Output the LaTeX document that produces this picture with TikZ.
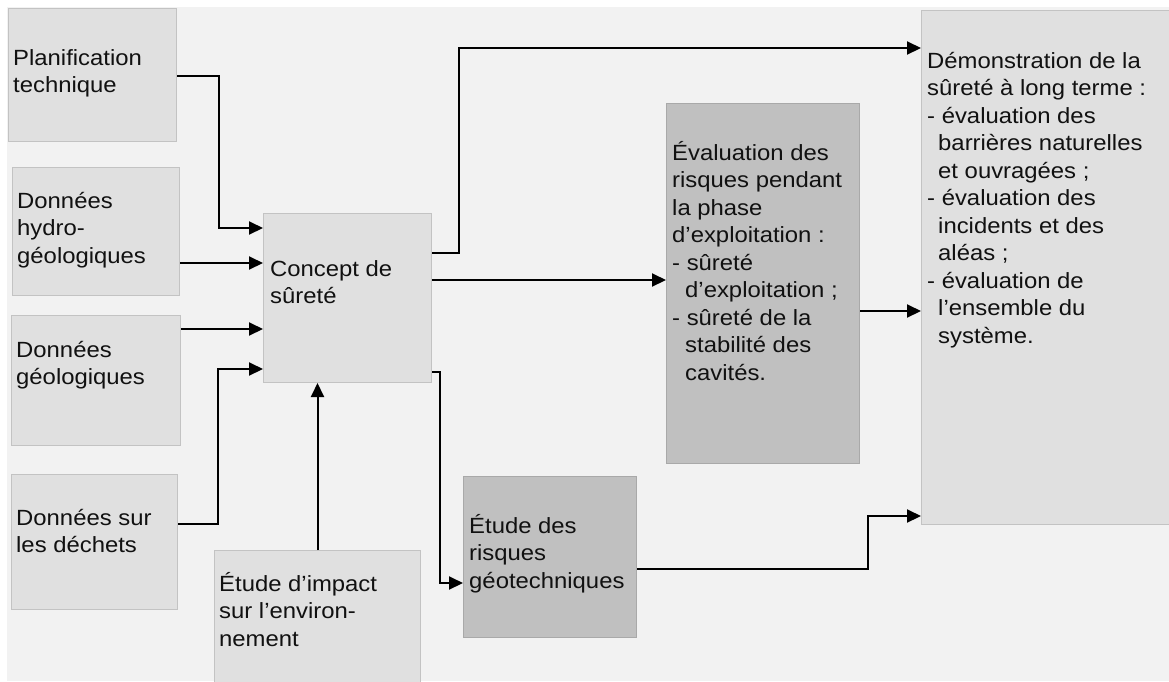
\documentclass[tikz,border=0pt]{standalone}
\usepackage{fontspec}
\setmainfont{Liberation Sans}[FakeStretch=1.085]
\usetikzlibrary{arrows.meta,calc}
\definecolor{bgc}{HTML}{F2F2F2}
\definecolor{lightbox}{HTML}{E0E0E0}
\definecolor{lightedge}{HTML}{C3C3C3}
\definecolor{darkbox}{HTML}{C0C0C0}
\definecolor{darkedge}{HTML}{A9A9A9}
\definecolor{txtc}{HTML}{111111}
\newcommand{\mlines}[1]{\begin{tabular}[t]{@{}l@{}}#1\end{tabular}}
\begin{document}
\begin{tikzpicture}[x=1pt,y=-1pt,
  lbox/.style={draw=lightedge, fill=lightbox, line width=1pt, anchor=north west, inner sep=0pt},
  dbox/.style={draw=darkedge, fill=darkbox, line width=1pt, anchor=north west, inner sep=0pt},
  txt/.style={anchor=base west, inner sep=0pt, text=txtc, font=\fontsize{22pt}{27.5pt}\selectfont},
  arr/.style={line width=2pt, -{Triangle[length=14pt,width=13pt]}}]
\useasboundingbox (0,0) rectangle (1169,681);
\fill[white] (0,0) rectangle (1169,681);
\fill[bgc] (7,7) rectangle (1169,681);
% boxes
\node[lbox, minimum width=168pt, minimum height=133pt] (planif) at (8,8) {};
\node[lbox, minimum width=167pt, minimum height=128pt] (hydro) at (12,167) {};
\node[lbox, minimum width=169pt, minimum height=130pt] (geol) at (11,315) {};
\node[lbox, minimum width=166pt, minimum height=135pt] (dechets) at (11,474) {};
\node[lbox, minimum width=206pt, minimum height=140pt] (impact) at (214,550) {};
\node[lbox, minimum width=168pt, minimum height=169pt] (concept) at (263,213) {};
\node[dbox, minimum width=173pt, minimum height=161pt] (geotech) at (463,476) {};
\node[dbox, minimum width=193pt, minimum height=360pt] (evalu) at (666,103) {};
\node[lbox, minimum width=260pt, minimum height=514pt] (demo) at (921,10) {};
% texts
\node[txt] (planifT) at (13,65) {\mlines{Planification\\technique}};
\node[txt] (hydroT) at (17,208) {\mlines{Données\\hydro-\\géologiques}};
\node[txt] (geolT) at (16,357) {\mlines{Données\\géologiques}};
\node[txt] (dechetsT) at (16,525) {\mlines{Données sur\\les déchets}};
\node[txt] (impactT) at (219,591) {\mlines{Étude d’impact\\sur l’environ-\\nement}};
\node[txt] (conceptT) at (270,276) {\mlines{Concept de\\sûreté}};
\node[txt] (geotechT) at (469,533) {\mlines{Étude des\\risques\\géotechniques}};
\node[txt] (evaluT) at (672,160) {\mlines{Évaluation des\\risques pendant\\la phase\\d’exploitation :\\- sûreté\\\hspace*{13pt}d’exploitation ;\\- sûreté de la\\\hspace*{13pt}stabilité des\\\hspace*{13pt}cavités.}};
\node[txt] (demoT) at (927,68) {\mlines{Démonstration de la\\sûreté à long terme :\\- évaluation des\\\hspace*{11pt}barrières naturelles\\\hspace*{11pt}et ouvragées ;\\- évaluation des\\\hspace*{11pt}incidents et des\\\hspace*{11pt}aléas ;\\- évaluation de\\\hspace*{11pt}l’ensemble du\\\hspace*{11pt}système.}};
% connectors
\draw[arr] ($(planif.north east)+(0,68)$) -| ($(concept.north west)+(-44,15)$) -- ($(concept.north west)+(0,15)$);
\draw[arr] ($(hydro.north east)+(0,96)$) -- ($(concept.north west)+(0,50)$);
\draw[arr] ($(geol.north east)+(0,14)$) -- ($(concept.north west)+(0,116)$);
\draw[arr] ($(dechets.north east)+(0,50)$) -| ($(concept.north west)+(-45,156)$) -- ($(concept.north west)+(0,156)$);
\draw[arr] (impact.north) -- (impact.north |- concept.south);
\draw[arr] ($(concept.north east)+(0,40)$) -- ++(27,0) |- ($(demo.north west)+(0,38)$);
\draw[arr] ($(concept.north east)+(0,67)$) -- ($(evalu.north west)+(0,177)$);
\draw[arr] ($(concept.north east)+(0,159)$) -- ++(8,0) |- ($(geotech.north west)+(0,107)$);
\draw[arr] ($(evalu.north east)+(0,208)$) -- ($(demo.north west)+(0,301)$);
\draw[arr] ($(geotech.north east)+(0,93)$) -- ++(231,0) |- ($(demo.north west)+(0,506)$);
\end{tikzpicture}
\end{document}
